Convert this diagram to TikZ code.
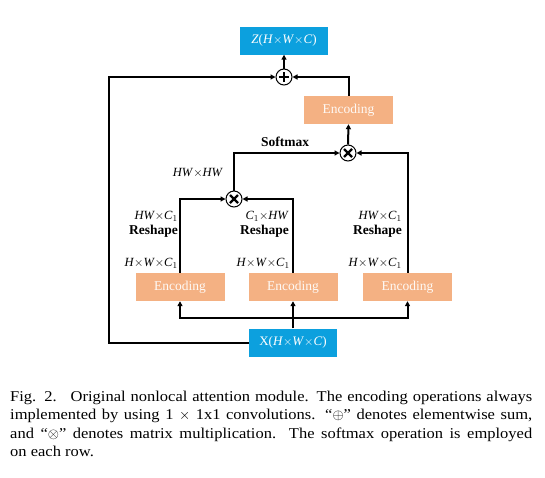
\documentclass[tikz,border=0pt]{standalone}
\usepackage{fontspec}
\setmainfont{Liberation Serif}
\newfontfamily\capfont[FakeStretch=1.1,Ligatures=TeX]{Liberation Serif}
\usetikzlibrary{arrows.meta}
\definecolor{boxblue}{RGB}{12,160,222}
\definecolor{encorange}{RGB}{244,177,131}
\tikzset{
  bluebox/.style={fill=boxblue,minimum width=88pt,minimum height=28pt,inner sep=0pt,text=white,font=\fontsize{13}{15}\selectfont},
  encbox/.style={fill=encorange,minimum width=89pt,minimum height=28pt,inner sep=0pt,text=white!92!encorange,font=\fontsize{13.5}{15}\selectfont},
  circ/.style={circle,draw=black,line width=1pt,fill=white,minimum size=16pt,inner sep=0pt},
  arr/.style={line width=2pt,-{Triangle[length=5pt,width=5pt]}},
  lab/.style={font=\fontsize{12.5}{14}\selectfont,inner sep=0pt},
  blab/.style={font=\bfseries\fontsize{13.5}{15}\selectfont,inner sep=0pt},
}
\newcommand{\mx}{\ensuremath{\times}}
\begin{document}
\begin{tikzpicture}[x=1pt,y=-1pt]
\useasboundingbox (0,0) rectangle (545,477);
% nodes
\node[bluebox] (Z) at (284,40.5) {\textit{Z}(\textit{H}\mx\textit{W}\mx\textit{C})};
\node[circ] (plus) at (284,77) {};
\node[encbox] (E4) at (348.5,110) {Encoding};
\node[circ] (m2) at (348,153) {};
\node[circ] (m1) at (234,199) {};
\node[encbox] (E1) at (180,287) {Encoding};
\node[encbox] (E2) at (293,287) {Encoding};
\node[encbox] (E3) at (407.5,287) {Encoding};
\node[bluebox] (X) at (293,342.5) {X(\textit{H}\mx\textit{W}\mx\textit{C})};
\coordinate (lc) at (109,77);
\coordinate (bus) at (293,318);
% connectors
\draw[arr] (E1.north) |- (m1.west);
\draw[arr] (E2.north) |- (m1.east);
\draw[arr] (m1.north) |- (m2.west);
\draw[arr] (E3.north) |- (m2.east);
\draw[arr] (m2.north) -- (E4.south);
\draw[arr] (E4.north) |- (plus.east);
\draw[arr] (plus.north) -- (Z.south);
\draw[arr] (X.west) -| (lc) -- (plus.west);
\draw[arr] (X.north) -- (E2.south);
\draw[arr] (bus) -| (E1.south);
\draw[arr] (bus) -| (E3.south);
% symbols in circles
\draw[line width=2.2pt] ([xshift=-5pt]plus.center) -- ([xshift=5pt]plus.center) ([yshift=-5pt]plus.center) -- ([yshift=5pt]plus.center);
\foreach \c in {m1,m2}{
  \draw[line width=2.2pt] ([shift={(-4pt,-4pt)}]\c.center) -- ([shift={(4pt,4pt)}]\c.center) ([shift={(-4pt,4pt)}]\c.center) -- ([shift={(4pt,-4pt)}]\c.center);
}
% labels
\node[blab] (sm) at (285,142) {Softmax};
\node[lab] (hwhw) at (198,173) {\textit{HW}\mx\textit{HW}};
\node[lab,anchor=east] (l1a) at (178,216) {\textit{HW}\mx\textit{C}$_1$};
\node[blab,anchor=east] (l1b) at (178,231) {Reshape};
\node[lab,anchor=east] (l1c) at (178,263) {\textit{H}\mx\textit{W}\mx\textit{C}$_1$};
\node[lab,anchor=east] (l2a) at (289,216) {\textit{C}$_1$\mx\textit{HW}};
\node[blab,anchor=east] (l2b) at (289,231) {Reshape};
\node[lab,anchor=east] (l2c) at (290,263) {\textit{H}\mx\textit{W}\mx\textit{C}$_1$};
\node[lab,anchor=east] (l3a) at (402,216) {\textit{HW}\mx\textit{C}$_1$};
\node[blab,anchor=east] (l3b) at (402,231) {Reshape};
\node[lab,anchor=east] (l3c) at (402,263) {\textit{H}\mx\textit{W}\mx\textit{C}$_1$};
% caption
\node[anchor=north west,inner sep=0pt,text width=522pt,align=justify,font=\capfont\fontsize{15}{18.5}\selectfont] (cap) at (10,390.5)
{Fig. 2.\hspace{14pt}Original nonlocal attention module. The encoding operations always\linebreak
implemented by using 1 $\times$ 1x1 convolutions. ``$\oplus$'' denotes elementwise sum,\linebreak
and ``$\otimes$'' denotes matrix multiplication. The softmax operation is employed\linebreak
on each row.};
\end{tikzpicture}
\end{document}
